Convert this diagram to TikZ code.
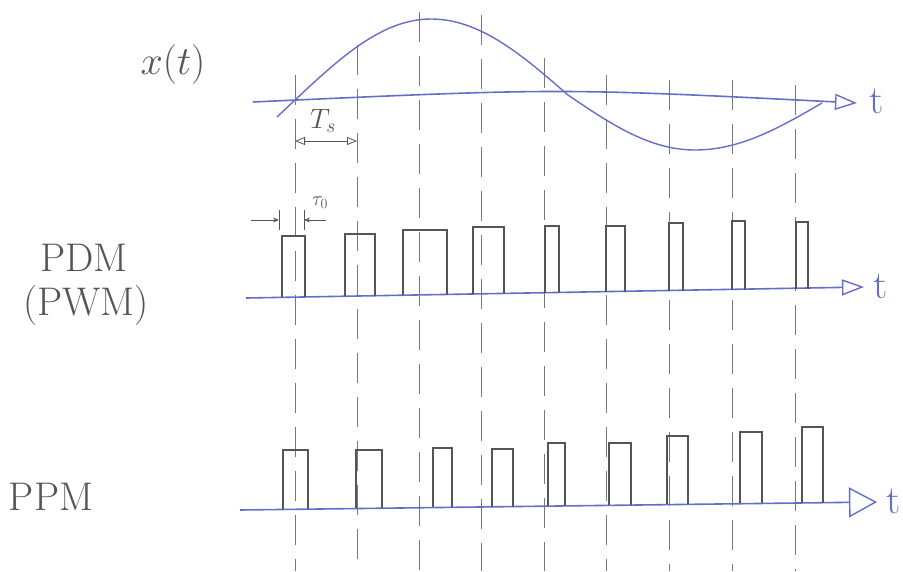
\RequirePackage{fix-cm}
\documentclass[tikz,border=0pt]{standalone}
\usetikzlibrary{arrows.meta}
\definecolor{penblue}{RGB}{100,110,200}
\definecolor{pencil}{RGB}{85,85,85}
\definecolor{guide}{RGB}{120,120,120}
\tikzset{
  axisline/.style={draw=penblue, line width=1.6pt, -{Triangle[open,length=22pt,width=16pt,line width=1.4pt]}},
  bigaxis/.style={draw=penblue, line width=1.6pt, -{Triangle[open,length=28pt,width=30pt,line width=1.4pt]}},
  signal/.style={draw=penblue, line width=1.4pt, line join=round},
  pulse/.style={draw=pencil, line width=1.2pt},
  guideline/.style={draw=guide, line width=0.7pt, dash pattern=on 30pt off 14pt},
  lbl/.style={text=pencil, font=\fontsize{40}{44}\selectfont, inner sep=0pt},
  xlbl/.style={text=pencil, font=\fontsize{40}{44}\selectfont, inner sep=0pt},
  tlbl/.style={text=penblue, font=\fontsize{40}{44}\selectfont, inner sep=0pt},
  small/.style={text=pencil, font=\fontsize{28}{30}\selectfont, inner sep=0pt},
  tiny/.style={text=pencil, font=\fontsize{20}{22}\selectfont, inner sep=0pt},
  dim/.style={draw=pencil, line width=0.8pt},
}
\begin{document}
\begin{tikzpicture}[x=1pt,y=-1pt]
\useasboundingbox (0,0) rectangle (903,571);
% guide lines (sampling instants)
\foreach \x/\t in {295/75,357/45,419/12,481/15,544/58,606/75,669/80,732/80,795/85}{
  \draw[guideline] (\x,\t) -- (\x,571);
}
% labels
\node[xlbl] (xt) at (173,64) {$x(t)$};
\node[lbl] (pdm) at (84,258) {PDM};
\node[lbl] (pwm) at (86,306) {(PWM)};
\node[lbl] (ppm) at (51,497) {PPM};
% top axis
\coordinate (a1s) at (253,102);
\coordinate (a1e) at (857,103);
\draw[axisline] (a1s) .. controls (560,88) .. (a1e);
\node[tlbl] (t1) at (877,101) {t};
% signal x(t)
\coordinate (s0) at (277,117);
\coordinate (s1) at (295,100);
\coordinate (s2) at (431,19);
\coordinate (s3) at (568,95);
\coordinate (s4) at (695,150);
\coordinate (s5) at (822,103);
\draw[signal] (s0) -- (s1) sin (s2) cos (s3) sin (s4) cos (s5);
% Ts
\coordinate (ts1) at (295,141);
\coordinate (ts2) at (357,141);
\draw[dim, {Triangle[open,length=10pt,width=8pt]}-{Triangle[open,length=10pt,width=8pt]}] (ts1) -- (ts2);
\node[small] (tslbl) at (323,121) {$T_s$};
% PDM axis
\coordinate (a2s) at (246,298);
\coordinate (a2e) at (864,287);
\draw[axisline] (a2s) -- (a2e);
\node[tlbl] (t2) at (881,286) {t};
% PDM pulses
\foreach \l/\r/\tp/\b in {282/305/236/297, 345/375/234/296, 403/447/230/295, 473/504/227/294, 545/559/226/293, 606/625/226/292, 669/683/223/291, 732/745/221/290, 796/808/222/289}{
  \draw[pulse] (\l,\b) -- (\l,\tp) -- (\r,\tp) -- (\r,\b);
}
% tau0 markers
\coordinate (tau1) at (279,220);
\coordinate (tau2) at (304,220);
\draw[dim] (tau1) ++(0,-10) -- ++(0,20);
\draw[dim] (tau2) ++(0,-10) -- ++(0,20);
\draw[dim,-{Stealth[length=6pt,width=5pt]}] (251,220) -- (tau1);
\draw[dim,-{Stealth[length=6pt,width=5pt]}] (326,220) -- (tau2);
\node[tiny] (taulbl) at (320,203) {$\tau_0$};
% PPM axis
\coordinate (a3s) at (240,510);
\coordinate (a3e) at (877,502);
\draw[bigaxis] (a3s) -- (a3e);
\node[tlbl] (t3) at (894,501) {t};
% PPM pulses
\foreach \l/\r/\tp/\b in {283/308/450/509, 356/382/450/508, 433/452/448/507, 492/513/449/507, 548/565/443/506, 609/631/443/505, 667/688/436/504, 740/762/432/503, 802/823/427/503}{
  \draw[pulse] (\l,\b) -- (\l,\tp) -- (\r,\tp) -- (\r,\b);
}
\end{tikzpicture}
\end{document}
